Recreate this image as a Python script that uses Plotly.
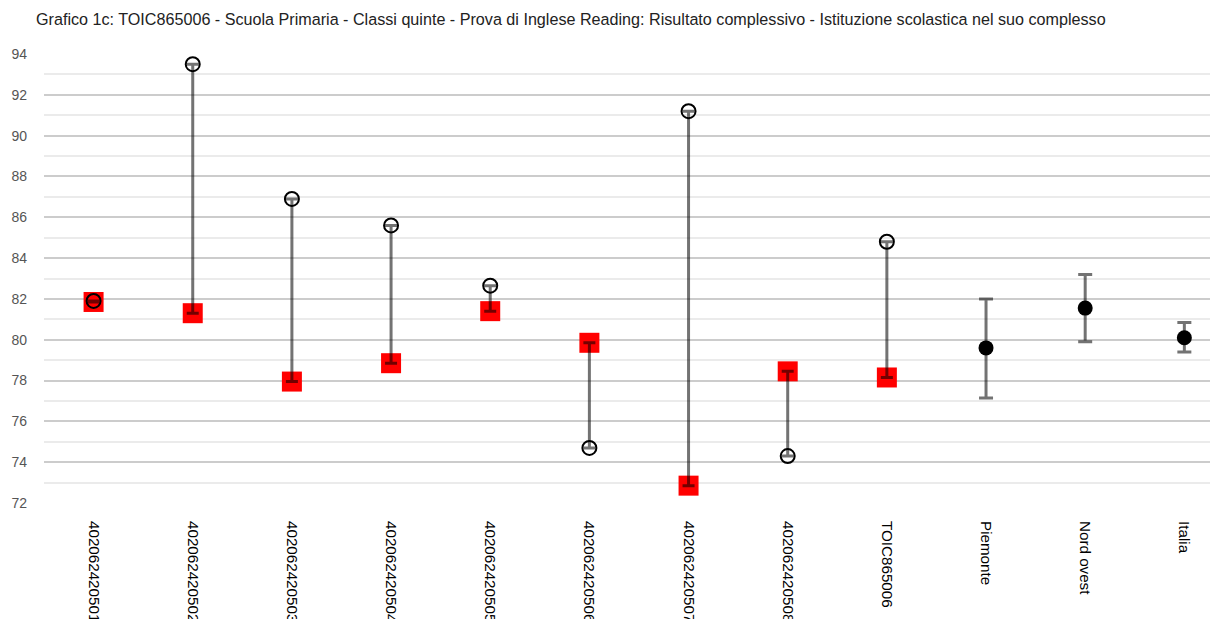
import plotly.graph_objects as go

categories = ['402062420501', '402062420502', '402062420503', '402062420504',
              '402062420505', '402062420506', '402062420507', '402062420508',
              'TOIC865006', 'Piemonte', 'Nord ovest', 'Italia']

# scuola / classi: punteggio (quadrato rosso) e valore di confronto (cerchio)
school_cats = categories[:9]
square_vals = [81.85, 81.3, 77.95, 78.85, 81.4, 79.85, 72.85, 78.45, 78.15]
circle_vals = [81.9, 93.5, 86.9, 85.6, 82.65, 74.7, 91.2, 74.3, 84.8]

# riferimenti territoriali: media e intervallo
area_cats = categories[9:]
area_mean = [79.6, 81.55, 80.1]
area_upper = [82.0, 83.2, 80.85]
area_lower = [77.15, 79.9, 79.4]

title = ('Grafico 1c: TOIC865006 - Scuola Primaria - Classi quinte - Prova di Inglese Reading: '
         'Risultato complessivo - Istituzione scolastica nel suo complesso')

err_plus = [max(c - s, 0) for s, c in zip(square_vals, circle_vals)]
err_minus = [max(s - c, 0) for s, c in zip(square_vals, circle_vals)]

fig = go.Figure()

fig.add_trace(go.Scatter(
    x=school_cats, y=square_vals, mode='markers',
    marker=dict(symbol='square', size=20, color='#ff0000'),
))
fig.add_trace(go.Scatter(
    x=school_cats, y=circle_vals, mode='markers',
    marker=dict(symbol='circle-open', size=14, color='black', line=dict(width=2, color='black')),
))
# intervallo tra i due valori, disegnato sopra i marker
fig.add_trace(go.Scatter(
    x=school_cats, y=square_vals, mode='markers',
    marker=dict(size=1, color='rgba(0,0,0,0)'),
    error_y=dict(type='data', symmetric=False, array=err_plus, arrayminus=err_minus,
                 color='rgba(0,0,0,0.55)', thickness=3, width=6),
))
fig.add_trace(go.Scatter(
    x=area_cats, y=area_mean, mode='markers',
    marker=dict(symbol='circle', size=15, color='black'),
    error_y=dict(type='data', symmetric=False,
                 array=[u - m for u, m in zip(area_upper, area_mean)],
                 arrayminus=[m - l for m, l in zip(area_mean, area_lower)],
                 color='rgba(0,0,0,0.55)', thickness=3, width=7),
))

fig.update_layout(
    width=1218, height=619,
    margin=dict(l=36, r=0, t=46, b=124),
    paper_bgcolor='white', plot_bgcolor='white',
    showlegend=False,
    font=dict(family='Liberation Sans, Arial, sans-serif', color='black'),
    title=dict(text=title, x=28 / 1218, xref='container', xanchor='left',
               y=1 - 11 / 619, yref='container', yanchor='middle',
               font=dict(size=16.15, color='#222')),
)

fig.update_xaxes(
    type='category', categoryorder='array', categoryarray=categories,
    range=[-0.5, 11.42], showgrid=False, zeroline=False, showline=False,
    tickangle=90, ticks='', ticklabelstandoff=17,
    tickfont=dict(size=15.2, color='black'),
)
fig.update_yaxes(
    range=[72, 94], dtick=2, tick0=72,
    showgrid=True, gridcolor='#cccccc', gridwidth=1.5,
    minor=dict(dtick=1, tick0=72, showgrid=True, gridcolor='#ebebeb', gridwidth=1.5),
    zeroline=False, showline=False, ticks='', ticklabelstandoff=16,
    tickfont=dict(size=14, color='#555555'),
)

fig.write_html("out.html")
